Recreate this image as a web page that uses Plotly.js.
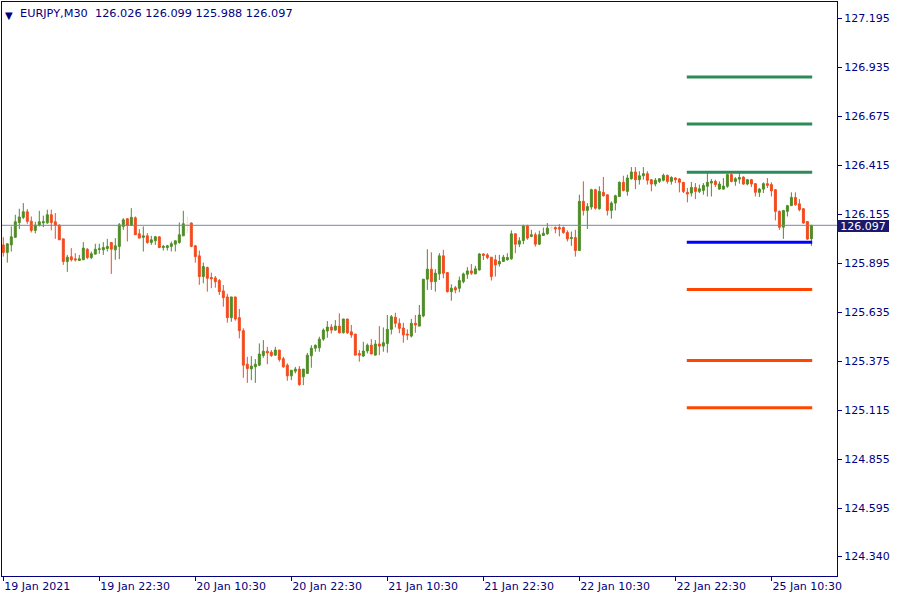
<!DOCTYPE html>
<html><head><meta charset="utf-8">
<script src="https://cdn.plot.ly/plotly-3.0.1.min.js"></script>
<style>html,body{margin:0;padding:0;background:#fff}#chart{width:900px;height:600px}</style>
</head><body><div id="chart"></div>
<script>
const symbol = "EURJPY";
const timeframe = "M30";

const openP = [
125.993,125.953,125.993,126.033,126.112,126.139,126.169,126.119,126.070,126.098,
126.110,126.110,126.153,126.116,126.098,126.025,125.905,125.930,125.919,125.910,
125.914,125.970,125.926,125.944,125.969,125.967,125.974,126.006,125.967,125.985,
126.091,126.132,126.096,126.137,126.052,126.033,126.041,126.006,126.015,126.036,
125.979,125.979,125.985,125.997,126.006,126.041,126.100,126.109,125.988,125.935,
125.825,125.873,125.820,125.818,125.804,125.749,125.717,125.607,125.717,125.607,
125.538,125.360,125.335,125.346,125.355,125.406,125.429,125.424,125.408,125.435,
125.389,125.355,125.298,125.323,125.334,125.293,125.311,125.405,125.445,125.447,
125.493,125.536,125.557,125.541,125.562,125.527,125.600,125.532,125.520,125.417,
125.403,125.430,125.461,125.408,125.467,125.456,125.470,125.545,125.609,125.577,
125.552,125.520,125.509,125.577,125.562,125.616,125.811,125.864,125.798,125.839,
125.935,125.846,125.745,125.766,125.763,125.798,125.837,125.855,125.839,125.860,
125.945,125.940,125.928,125.914,125.892,125.905,125.914,125.919,126.052,125.997,
126.016,126.094,126.038,126.047,125.997,126.043,126.052,126.083,126.085,126.085,
126.085,126.059,126.027,126.032,125.963,126.224,126.176,126.194,126.286,126.185,
126.272,126.259,126.176,126.215,126.250,126.325,126.277,126.344,126.380,126.339,
126.360,126.371,126.339,126.316,126.330,126.336,126.362,126.330,126.348,126.343,
126.325,126.272,126.268,126.298,126.277,126.282,126.304,126.321,126.330,126.289,
126.289,126.304,126.366,126.330,126.342,126.353,126.316,126.339,126.318,126.272,
126.289,126.318,126.313,126.286,126.171,126.087,126.171,126.201,126.245,126.211,
126.185,126.117,126.026];

const highP = [
126.034,125.999,126.091,126.153,126.185,126.215,126.183,126.144,126.116,126.174,
126.148,126.180,126.180,126.162,126.102,126.025,125.940,125.976,125.949,125.940,
126.008,125.976,125.958,125.999,125.999,126.008,126.025,126.006,126.029,126.109,
126.135,126.135,126.188,126.144,126.077,126.091,126.056,126.041,126.041,126.038,
125.993,125.993,126.011,126.015,126.112,126.174,126.144,126.112,125.993,125.963,
125.899,125.878,125.846,125.828,125.812,125.780,125.733,125.717,125.717,125.653,
125.550,125.399,125.403,125.387,125.470,125.488,125.452,125.435,125.452,125.435,
125.399,125.364,125.328,125.346,125.350,125.334,125.420,125.461,125.465,125.506,
125.550,125.589,125.573,125.594,125.630,125.600,125.600,125.568,125.520,125.435,
125.479,125.470,125.493,125.488,125.562,125.555,125.621,125.621,125.633,125.603,
125.580,125.545,125.600,125.621,125.674,125.811,125.970,125.954,125.864,125.949,
125.967,125.846,125.784,125.775,125.825,125.846,125.875,125.892,125.882,125.949,
125.949,125.949,125.928,125.940,125.940,125.940,125.949,126.070,126.055,126.034,
126.100,126.100,126.073,126.059,126.068,126.085,126.109,126.094,126.091,126.103,
126.091,126.070,126.064,126.073,126.259,126.330,126.215,126.291,126.291,126.304,
126.353,126.259,126.224,126.259,126.330,126.360,126.366,126.406,126.406,126.384,
126.406,126.384,126.343,126.348,126.348,126.371,126.366,126.357,126.353,126.348,
126.325,126.295,126.327,126.321,126.313,126.321,126.375,126.343,126.339,126.330,
126.348,126.371,126.371,126.353,126.375,126.357,126.343,126.343,126.321,126.295,
126.325,126.348,126.325,126.289,126.176,126.176,126.206,126.272,126.272,126.236,
126.188,126.117,126.099];

const lowP = [
125.931,125.899,125.958,126.033,126.077,126.130,126.105,126.059,126.054,126.091,
126.087,126.105,126.070,126.025,126.020,125.887,125.850,125.905,125.905,125.910,
125.914,125.917,125.917,125.944,125.946,125.940,125.958,125.839,125.914,125.917,
126.073,126.011,126.096,126.047,126.029,125.958,125.999,125.993,125.993,125.976,
125.963,125.963,125.958,125.958,125.999,126.041,126.056,125.981,125.899,125.781,
125.789,125.745,125.763,125.766,125.727,125.665,125.580,125.585,125.591,125.497,
125.288,125.261,125.275,125.261,125.350,125.394,125.360,125.399,125.404,125.373,
125.341,125.272,125.275,125.311,125.245,125.249,125.311,125.341,125.426,125.426,
125.484,125.500,125.523,125.538,125.523,125.523,125.520,125.500,125.408,125.373,
125.399,125.417,125.414,125.408,125.408,125.426,125.421,125.518,125.555,125.524,
125.474,125.488,125.502,125.527,125.562,125.609,125.754,125.754,125.745,125.807,
125.816,125.740,125.697,125.736,125.742,125.789,125.813,125.834,125.839,125.857,
125.913,125.917,125.804,125.825,125.878,125.905,125.910,125.914,125.949,125.981,
125.997,126.020,126.034,125.984,125.992,126.041,126.047,126.066,126.055,126.038,
126.052,126.011,125.988,125.931,125.963,126.149,126.078,126.180,126.180,126.180,
126.250,126.149,126.132,126.176,126.247,126.277,126.254,126.339,126.289,126.313,
126.339,126.313,126.277,126.304,126.321,126.330,126.318,126.313,126.321,126.272,
126.268,126.219,126.250,126.236,126.268,126.259,126.250,126.250,126.300,126.286,
126.286,126.296,126.325,126.307,126.318,126.312,126.309,126.300,126.250,126.247,
126.268,126.295,126.250,126.123,126.073,126.025,126.144,126.201,126.201,126.171,
126.105,126.020,125.988];

const closeP = [
125.953,125.999,126.036,126.116,126.141,126.169,126.118,126.070,126.098,126.116,
126.116,126.153,126.112,126.098,126.020,125.905,125.928,125.914,125.914,125.919,
125.976,125.926,125.946,125.970,125.972,125.979,125.985,125.970,125.988,126.100,
126.126,126.096,126.139,126.047,126.029,126.041,126.006,126.020,126.036,125.979,
125.985,125.988,125.999,126.015,126.047,126.105,126.100,125.985,125.931,125.825,
125.878,125.816,125.813,125.798,125.745,125.713,125.607,125.717,125.600,125.538,
125.355,125.337,125.350,125.360,125.414,125.429,125.420,125.406,125.435,125.385,
125.346,125.298,125.328,125.334,125.252,125.334,125.408,125.445,125.460,125.493,
125.541,125.557,125.541,125.562,125.527,125.600,125.527,125.515,125.408,125.408,
125.430,125.461,125.414,125.467,125.456,125.474,125.545,125.612,125.577,125.550,
125.515,125.515,125.577,125.568,125.621,125.811,125.864,125.798,125.843,125.935,
125.843,125.745,125.763,125.754,125.804,125.839,125.855,125.843,125.866,125.945,
125.937,125.926,125.825,125.887,125.905,125.928,125.926,126.052,125.997,126.015,
126.094,126.029,126.047,125.997,126.047,126.055,126.082,126.083,126.078,126.077,
126.059,126.025,126.032,125.963,126.224,126.176,126.197,126.286,126.188,126.277,
126.254,126.176,126.215,126.254,126.325,126.282,126.348,126.380,126.339,126.360,
126.371,126.336,126.316,126.336,126.344,126.362,126.330,126.351,126.339,126.325,
126.277,126.263,126.298,126.277,126.291,126.309,126.325,126.330,126.313,126.316,
126.305,126.366,126.330,126.344,126.351,126.316,126.339,126.316,126.272,126.289,
126.318,126.309,126.280,126.171,126.087,126.176,126.201,126.245,126.206,126.180,
126.109,126.024,126.097];

const timeLabels = ["19 Jan 2021","19 Jan 22:30","20 Jan 10:30","20 Jan 22:30","21 Jan 10:30",
                    "21 Jan 22:30","22 Jan 10:30","22 Jan 22:30","25 Jan 10:30"];
const labelBars = [0,24,48,72,96,120,144,168,192];
const priceTicks = [127.195,126.935,126.675,126.415,126.155,125.895,125.635,125.375,125.115,124.855,124.595,124.340];

const resistance = [126.884, 126.634, 126.379];
const pivot = [126.007];
const support = [125.757, 125.379, 125.129];

const NAVY = "#000080";
const GREEN = "#4f8c26";
const RED = "#f34b1f";
const PALE = "#f6ddd3";
const FONT = "DejaVu Sans";

const idx = openP.map((_, i) => i);
const norm = idx.filter(i => openP[i] !== closeP[i]);
const doji = idx.filter(i => openP[i] === closeP[i]);
const pick = (arr, ids) => ids.map(i => arr[i]);

const candles = {
  type: "candlestick",
  x: norm, open: pick(openP, norm), high: pick(highP, norm), low: pick(lowP, norm), close: pick(closeP, norm),
  increasing: {line: {color: GREEN, width: 1}, fillcolor: GREEN},
  decreasing: {line: {color: RED, width: 1}, fillcolor: RED},
  whiskerwidth: 0, hoverinfo: "skip", showlegend: false
};
const dojis = {
  type: "candlestick",
  x: doji, open: pick(openP, doji), high: pick(highP, doji), low: pick(lowP, doji), close: pick(closeP, doji),
  increasing: {line: {color: PALE, width: 1}, fillcolor: PALE},
  decreasing: {line: {color: PALE, width: 1}, fillcolor: PALE},
  whiskerwidth: 0, hoverinfo: "skip", showlegend: false
};

const last = openP.length - 1;
const lastClose = closeP[last];
const lineStart = 170.85, lineEnd = last + 0.2;

const shapes = [];
const addLevels = (vals, color) => vals.forEach(v => shapes.push({
  type: "line", xref: "x", yref: "y", x0: lineStart, x1: lineEnd, y0: v, y1: v,
  line: {color: color, width: 3}, layer: "above"
}));
addLevels(resistance, "#2e8b57");
addLevels(pivot, "#0000ff");
addLevels(support, "#ff4500");
shapes.push({type: "line", xref: "paper", yref: "y", x0: 0, x1: 1, y0: lastClose, y1: lastClose,
  line: {color: "#778899", width: 1}, layer: "above"});

const header = symbol + "," + timeframe + "\u00a0\u00a0" +
  [openP[last], highP[last], lowP[last], closeP[last]].map(v => v.toFixed(3)).join(" ");

const annotations = [
  {xref: "paper", yref: "paper", x: 0, y: 1, xanchor: "left", yanchor: "top", xshift: 1, yshift: -6,
   text: "▼", showarrow: false, font: {family: FONT, size: 10, color: NAVY}},
  {xref: "paper", yref: "paper", x: 0, y: 1, xanchor: "left", yanchor: "top", xshift: 16, yshift: -3,
   text: header, showarrow: false, font: {family: FONT, size: 11.3, color: NAVY}},
  {xref: "paper", yref: "y", x: 1, y: lastClose, xanchor: "left", yanchor: "middle", xshift: 0, yshift: -1,
   text: lastClose.toFixed(3), showarrow: false, bgcolor: "#191970", borderwidth: 0, borderpad: 2,
   width: 48, height: 8, align: "center", font: {family: FONT, size: 11, color: "#ffffff"}}
];

const layout = {
  width: 900, height: 600,
  margin: {l: 2, r: 63, t: 2, b: 24},
  paper_bgcolor: "#ffffff", plot_bgcolor: "#ffffff",
  showlegend: false,
  xaxis: {
    range: [-0.325, 208.4], rangeslider: {visible: false},
    showgrid: false, zeroline: false, showline: true, mirror: true, linecolor: NAVY, linewidth: 1,
    ticks: "outside", ticklen: 4, tickcolor: NAVY, tickwidth: 1,
    tickmode: "array", tickvals: labelBars, ticktext: timeLabels,
    ticklabelposition: "outside right",
    tickfont: {family: FONT, size: 11, color: NAVY}
  },
  yaxis: {
    side: "right", range: [124.236, 127.282],
    showgrid: false, zeroline: false, showline: true, mirror: true, linecolor: NAVY, linewidth: 1,
    ticks: "outside", ticklen: 4, tickcolor: NAVY, tickwidth: 1,
    tickmode: "array", tickvals: priceTicks, ticktext: priceTicks.map(v => v.toFixed(3)),
    tickfont: {family: FONT, size: 11, color: NAVY}
  },
  shapes: shapes,
  annotations: annotations
};

Plotly.newPlot("chart", [candles, dojis], layout, {displayModeBar: false, staticPlot: true});
</script>
</body></html>
